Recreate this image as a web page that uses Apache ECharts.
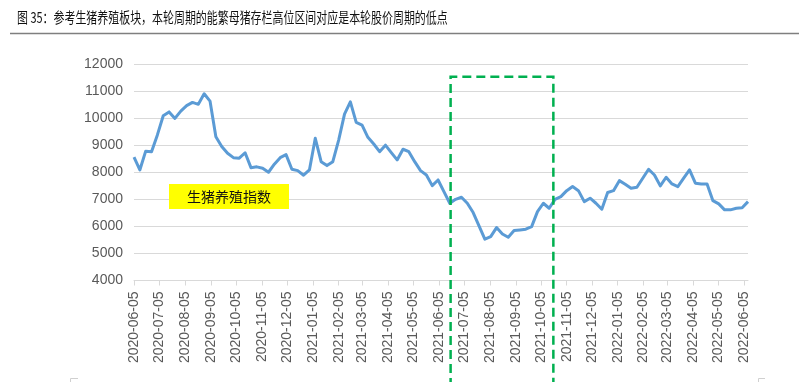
<!DOCTYPE html>
<html>
<head>
<meta charset="utf-8">
<script src="https://cdn.jsdelivr.net/npm/echarts@6/dist/echarts.min.js"></script>
<style>html,body{margin:0;padding:0;background:#fff;}#c{width:799px;height:382px;}</style>
</head>
<body>
<div id="c"></div>
<script>
var dates = [
'2020-06-05','2020-06-12','2020-06-19','2020-06-26',
'2020-07-03','2020-07-10','2020-07-17','2020-07-24','2020-07-31',
'2020-08-07','2020-08-14','2020-08-21','2020-08-28',
'2020-09-04','2020-09-11','2020-09-18','2020-09-25',
'2020-10-02','2020-10-09','2020-10-16','2020-10-23','2020-10-30',
'2020-11-06','2020-11-13','2020-11-20','2020-11-27',
'2020-12-04','2020-12-11','2020-12-18','2020-12-25',
'2021-01-01','2021-01-08','2021-01-15','2021-01-22','2021-01-29',
'2021-02-05','2021-02-12','2021-02-19','2021-02-26',
'2021-03-05','2021-03-12','2021-03-19','2021-03-26',
'2021-04-02','2021-04-09','2021-04-16','2021-04-23','2021-04-30',
'2021-05-07','2021-05-14','2021-05-21','2021-05-28',
'2021-06-04','2021-06-11','2021-06-18','2021-06-25',
'2021-07-02','2021-07-09','2021-07-16','2021-07-23','2021-07-30',
'2021-08-06','2021-08-13','2021-08-20','2021-08-27',
'2021-09-03','2021-09-10','2021-09-17','2021-09-24',
'2021-10-01','2021-10-08','2021-10-15','2021-10-22','2021-10-29',
'2021-11-05','2021-11-12','2021-11-19','2021-11-26',
'2021-12-03','2021-12-10','2021-12-17','2021-12-24','2021-12-31',
'2022-01-07','2022-01-14','2022-01-21','2022-01-28',
'2022-02-04','2022-02-11','2022-02-18','2022-02-25',
'2022-03-04','2022-03-11','2022-03-18','2022-03-25',
'2022-04-01','2022-04-08','2022-04-15','2022-04-22','2022-04-29',
'2022-05-06','2022-05-13','2022-05-20','2022-05-27',
'2022-06-03','2022-06-10'
];
var pigIndex = [
8560,8085,8780,8760,
9380,10090,10230,9990,10260,
10460,10580,10510,10900,
10630,9310,8950,8700,
8540,8520,8720,8170,8200,
8150,8000,8300,8540,
8650,8110,8060,7890,
8085,9255,8390,8245,8390,
9190,10150,10600,9845,
9745,9290,9045,8760,
9000,8725,8455,8850,8760,
8390,8060,7900,7505,
7715,7285,6855,7000,
7075,6855,6510,6015,5525,
5620,5955,5720,5600,
5845,5870,5895,5990,
6545,6855,6670,7000,7100,
7320,7470,7320,6915,
7040,6855,6635,7250,7320,
7690,7557,7410,7447,
7780,8110,7900,7495,
7815,7570,7470,7780,
8085,7595,7570,7570,6950,
6830,6610,6610,6670,
6690,6915
];
var tickLabels = [
'2020-06-05','2020-07-05','2020-08-05','2020-09-05','2020-10-05','2020-11-05','2020-12-05',
'2021-01-05','2021-02-05','2021-03-05','2021-04-05','2021-05-05','2021-06-05','2021-07-05',
'2021-08-05','2021-09-05','2021-10-05','2021-11-05','2021-12-05',
'2022-01-05','2022-02-05','2022-03-05','2022-04-05','2022-05-05','2022-06-05'
];
var highZoneStart = '2021-06-19';
var highZoneEnd = '2021-10-20';
var highZoneTop = 11530;
var titleText = '图 35：参考生猪养殖板块，本轮周期的能繁母猪存栏高位区间对应是本轮股价周期的低点';
var seriesName = '生猪养殖指数';

// date string -> day number (UTC days), used as the x value
function dayNum(s){ var p = s.split('-'); return Date.UTC(+p[0], +p[1]-1, +p[2]) / 86400000; }
var tickValues = tickLabels.map(dayNum);
var lineData = dates.map(function(d,i){ return [dayNum(d), pigIndex[i]]; });

var chart = echarts.init(document.getElementById('c'), null, {renderer:'canvas'});
var axisFont = 'Liberation Sans, Arial, sans-serif';
chart.setOption({
  animation:false,
  backgroundColor:'#fff',
  grid:{left:134, right:51, top:64, bottom:101.5, containLabel:false},
  xAxis:{
    type:'value',
    min: dayNum(dates[0]), max: dayNum(dates[dates.length-1]),
    axisLine:{show:true, onZero:false, lineStyle:{color:'#d9d9d9', width:1}},
    axisTick:{show:true, length:5, lineStyle:{color:'#d9d9d9'}, customValues: tickValues},
    axisLabel:{
      customValues: tickValues, rotate:90, margin:11,
      color:'#595959', fontSize:14, fontFamily:axisFont,
      formatter:function(v){ var i = tickValues.indexOf(v); return i>=0 ? tickLabels[i] : ''; },
      hideOverlap:false
    },
    splitLine:{show:false}
  },
  yAxis:{
    type:'value', min:4000, max:12000, interval:1000,
    axisLine:{show:false}, axisTick:{show:false},
    axisLabel:{color:'#595959', fontSize:14, fontFamily:axisFont, margin:11,
      formatter:function(v){ return String(v); }},
    splitLine:{lineStyle:{color:'#d9d9d9', width:1}}
  },
  series:[{
    name: seriesName, type:'line', data: lineData,
    showSymbol:false, symbol:'none',
    lineStyle:{color:'#5B9BD5', width:3, join:'round'},
    z:3
  }]
});

var pL = chart.convertToPixel({gridIndex:0}, [dayNum(highZoneStart), highZoneTop]);
var pR = chart.convertToPixel({gridIndex:0}, [dayNum(highZoneEnd), highZoneTop]);
var H = 382;
chart.setOption({
  graphic:[
    {type:'text', x:17, y:17.5, scaleX:0.73, style:{text:titleText, fontSize:15, fill:'#111', fontFamily:'Noto Sans CJK SC', verticalAlign:'middle', align:'left'}},
    {type:'line', shape:{x1:10, y1:33.5, x2:799, y2:33.5}, style:{stroke:'#7f7f7f', lineWidth:1.5}},
    {type:'polyline', shape:{points:[[pL[0],H+5],[pL[0],pL[1]],[pR[0],pR[1]],[pR[0],H+5]]}, style:{stroke:'#00B050', lineWidth:2.5, lineDash:[9,5], fill:null}, z:10},
    {type:'rect', shape:{x:169, y:184, width:120, height:25}, style:{fill:'#FFFF00'}, z:5},
    {type:'text', x:229, y:197, style:{text:seriesName, fontSize:14, fill:'#111', fontFamily:'Noto Sans CJK SC', align:'center', verticalAlign:'middle'}, z:6},
    {type:'polyline', shape:{points:[[70.5,383],[70.5,378.5],[78,378.5]]}, style:{stroke:'#d0d0d0', lineWidth:1, fill:null}},
    {type:'polyline', shape:{points:[[758.5,383],[758.5,378.5],[765,378.5]]}, style:{stroke:'#d0d0d0', lineWidth:1, fill:null}}
  ]
});
</script>
</body>
</html>
